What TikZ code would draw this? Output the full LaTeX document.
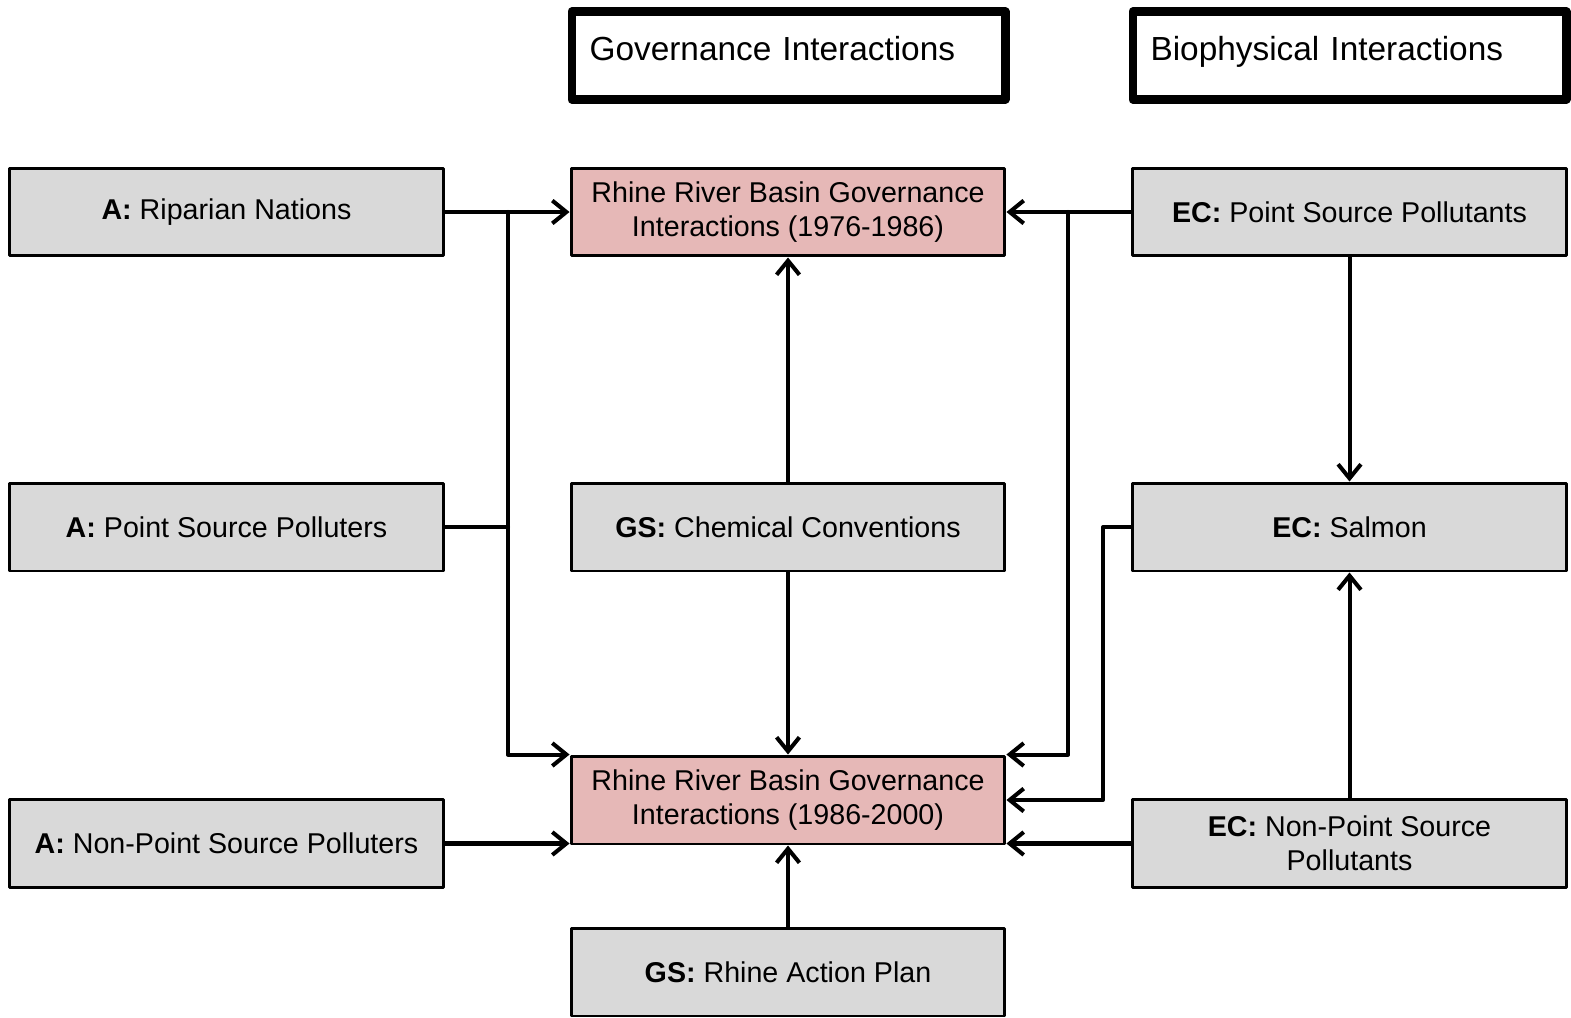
\documentclass[tikz,border=0pt]{standalone}
\usepackage{fontspec}
\setmainfont{Liberation Sans}
\usetikzlibrary{arrows.meta}

\definecolor{boxgray}{HTML}{D9D9D9}
\definecolor{boxpink}{HTML}{E6B8B7}

\begin{document}
\begin{tikzpicture}[line cap=round,line join=round,>={Straight Barb[length=8pt,width=13pt]},x=0.02cm,y=-0.02cm,
    box/.style={draw,line width=1.7pt,fill=boxgray,minimum width=8.68cm,minimum height=1.76cm,
        inner sep=2pt,align=center,font=\fontsize{16.3}{19.5}\selectfont},
    govbox/.style={box,fill=boxpink},
    headbox/.style={draw,line width=4.6pt,minimum width=8.68cm,minimum height=1.76cm,
        text width=7.96cm,inner xsep=0.36cm,text depth=0.27cm,align=left,font=\fontsize{19}{22}\selectfont},
    link/.style={line width=2.3pt}]
        \useasboundingbox (0,0) rectangle (1571,1017);
        % headers
        \node[headbox] (govhead) at (788.5,55.5) {Governance Interactions};
        \node[headbox] (biohead) at (1349.5,55.5) {Biophysical Interactions};
        % actors
        \node[box] (riparian) at (226.5,212) {\textbf{A:} Riparian Nations};
        \node[box] (pspolluters) at (226.5,527) {\textbf{A:} Point Source Polluters};
        \node[box] (npspolluters) at (226.5,843.5) {\textbf{A:} Non-Point Source Polluters};
        % governance
        \node[govbox] (rhineA) at (788,212) {Rhine River Basin Governance\\Interactions (1976-1986)};
        \node[box] (chem) at (788,527) {\textbf{GS:} Chemical Conventions};
        \node[govbox] (rhineB) at (788,800) {Rhine River Basin Governance\\Interactions (1986-2000)};
        \node[box] (rap) at (788,972) {\textbf{GS:} Rhine Action Plan};
        % biophysical
        \node[box] (ecpoint) at (1349.5,212) {\textbf{EC:} Point Source Pollutants};
        \node[box] (salmon) at (1349.5,527) {\textbf{EC:} Salmon};
        \node[box] (ecnps) at (1349.5,843.5) {\textbf{EC:} Non-Point Source\\Pollutants};
        % bus lines
        \coordinate (lbus) at (508,0);
        \coordinate (rbus) at (1068,0);
        \coordinate (sbus) at (1103,0);
        % left side
        \draw[link,->] (riparian) -- (rhineA);
        \draw[link,->] (lbus |- riparian.east) |- (rhineB.north west);
        \draw[link] (pspolluters.east) -- (lbus |- pspolluters.east);
        \draw[link,->] (npspolluters.east) -- (npspolluters.east -| rhineB.west);
        % middle
        \draw[link,->] (chem) -- (rhineA);
        \draw[link,->] (chem) -- (rhineB);
        \draw[link,->] (rap) -- (rhineB);
        % right side
        \draw[link,->] (ecpoint) -- (rhineA);
        \draw[link,->] (rbus |- ecpoint.west) |- (rhineB.north east);
        \draw[link,->] (salmon.west) -- (sbus |- salmon.west) |- (rhineB.east);
        \draw[link,->] (ecnps.west) -- (ecnps.west -| rhineB.east);
        \draw[link,->] (ecpoint) -- (salmon);
        \draw[link,->] (ecnps) -- (salmon);
    \end{tikzpicture}
\end{document}
